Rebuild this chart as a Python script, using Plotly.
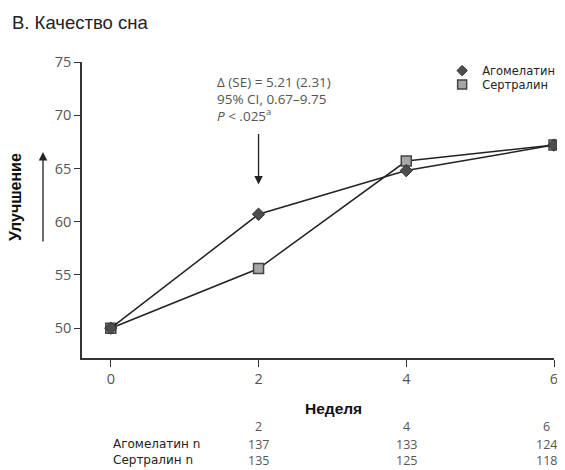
import plotly.graph_objects as go

weeks = [0, 2, 4, 6]
agomelatine = [50.0, 60.7, 64.8, 67.2]
sertraline = [50.0, 55.6, 65.7, 67.2]
series_names = ["Агомелатин", "Сертралин"]
table_weeks = [2, 4, 6]
agomelatine_n = [137, 133, 124]
sertraline_n = [135, 125, 118]
row_labels = ["Агомелатин n", "Сертралин n"]
y_ticks = [50, 55, 60, 65, 70, 75]
x_ticks = [0, 2, 4, 6]
stat_lines = ["Δ (SE) = 5.21 (2.31)", "95% CI, 0.67–9.75", "<i>P</i> < .025<sup>a</sup>"]

NUM_FONT = "Open Sans, Liberation Sans, sans-serif"
LAB_FONT = "DejaVu Sans, Liberation Sans, sans-serif"
BOLD_FONT = "Liberation Sans, Arial, sans-serif"
GRAY = "#555555"

fig = go.Figure()
fig.add_trace(go.Scatter(x=weeks, y=sertraline, mode="lines+markers", showlegend=False,
                         cliponaxis=False,
                         line=dict(color="#222222", width=1.5),
                         marker=dict(symbol="square", size=10, color="#a6a6a6",
                                     line=dict(color="#444444", width=1.5))))
fig.add_trace(go.Scatter(x=weeks, y=agomelatine, mode="lines+markers", showlegend=False,
                         cliponaxis=False,
                         line=dict(color="#222222", width=1.5),
                         marker=dict(symbol="diamond", size=9.5, color="#4d4d4d",
                                     line=dict(color="#333333", width=1))))
# legend-only markers (two legends so the rows can sit close together)
fig.add_trace(go.Scatter(x=[None], y=[None], mode="markers", name=series_names[0], legend="legend",
                         marker=dict(symbol="diamond", size=8, color="#4d4d4d",
                                     line=dict(color="#333333", width=1))))
fig.add_trace(go.Scatter(x=[None], y=[None], mode="markers", name=series_names[1], legend="legend2",
                         marker=dict(symbol="square", size=9, color="#a6a6a6",
                                     line=dict(color="#444444", width=1.5))))

annotations = []
# title
annotations.append(dict(text="В. Качество сна", xref="paper", yref="paper", x=-0.152, y=1.132,
                        xanchor="left", yanchor="middle", showarrow=False,
                        font=dict(family=BOLD_FONT, size=18.5, color="#222222")))
# stat annotation lines
for txt, yy in zip(stat_lines, [0.932, 0.875, 0.821]):
    annotations.append(dict(text=txt, xref="x", yref="paper", x=1.415, y=yy,
                            xanchor="left", yanchor="middle", showarrow=False,
                            font=dict(family=NUM_FONT, size=13.5, color=GRAY)))
# arrow down at week 2
annotations.append(dict(text="", x=2, y=63.5, xref="x", yref="y", ax=0, ay=-52,
                        showarrow=True, arrowhead=2, arrowsize=1.3, arrowwidth=1.3,
                        arrowcolor="#222222"))
# y-axis arrow
annotations.append(dict(text="", x=-0.0826, y=0.696, xref="paper", yref="paper", ax=0, ay=91,
                        showarrow=True, arrowhead=2, arrowsize=1.3, arrowwidth=1.3,
                        arrowcolor="#222222"))
# y title
annotations.append(dict(text="<b>Улучшение</b>", xref="paper", yref="paper", x=-0.140, y=0.544,
                        textangle=-90, showarrow=False, xanchor="center", yanchor="middle",
                        font=dict(family=BOLD_FONT, size=16, color="#111111")))
# x title
annotations.append(dict(text="<b>Неделя</b>", xref="paper", yref="paper", x=0.532, y=-0.169,
                        showarrow=False, xanchor="center", yanchor="middle",
                        font=dict(family=BOLD_FONT, size=15.5, color="#111111")))
# n table
row_y = [-0.233, -0.291, -0.345]
col_shift = {2: 0, 4: 0, 6: -8}
for wk in table_weeks:
    annotations.append(dict(text=str(wk), xref="x", yref="paper", x=wk, y=row_y[0],
                            xshift=col_shift[wk], yanchor="middle", showarrow=False,
                            font=dict(family=NUM_FONT, size=12.5, color=GRAY)))
for vals, yy in ((agomelatine_n, row_y[1]), (sertraline_n, row_y[2])):
    for wk, v in zip(table_weeks, vals):
        annotations.append(dict(text=str(v), xref="x", yref="paper", x=wk, y=yy,
                                xshift=col_shift[wk], yanchor="middle", showarrow=False,
                                font=dict(family=NUM_FONT, size=12.5, color=GRAY)))
for lab, yy in zip(row_labels, row_y[1:]):
    annotations.append(dict(text=lab, xref="x", yref="paper", x=0, y=yy, xanchor="left",
                            yanchor="middle", showarrow=False,
                            font=dict(family=LAB_FONT, size=12, color="#222222")))

legend_style = dict(xanchor="left", yanchor="top", bgcolor="rgba(0,0,0,0)",
                    font=dict(family=LAB_FONT, size=11.5, color="#222222"), itemwidth=30)

# The page adds an 8px body margin, so the figure is 8px smaller than the window
fig.update_layout(
    width=557, height=462,
    margin=dict(l=74, r=11, t=54, b=112, autoexpand=False),
    plot_bgcolor="white", paper_bgcolor="white",
    annotations=annotations,
    legend=dict(x=0.763, y=1.020, **legend_style),
    legend2=dict(x=0.763, y=0.973, **legend_style),
    xaxis=dict(range=[-0.39, 6], tickvals=x_ticks, ticks="outside", ticklen=7,
               tickcolor="#333333", showline=True, linecolor="#333333", linewidth=1.5,
               showgrid=False, zeroline=False,
               tickfont=dict(family=NUM_FONT, size=14.5, color=GRAY)),
    yaxis=dict(range=[47.2, 75], tickvals=y_ticks, ticks="outside", ticklen=6,
               tickcolor="#333333", showline=True, linecolor="#333333", linewidth=1.5,
               showgrid=False, zeroline=False,
               tickfont=dict(family=NUM_FONT, size=14.5, color=GRAY)),
)

fig.write_html("out.html")
